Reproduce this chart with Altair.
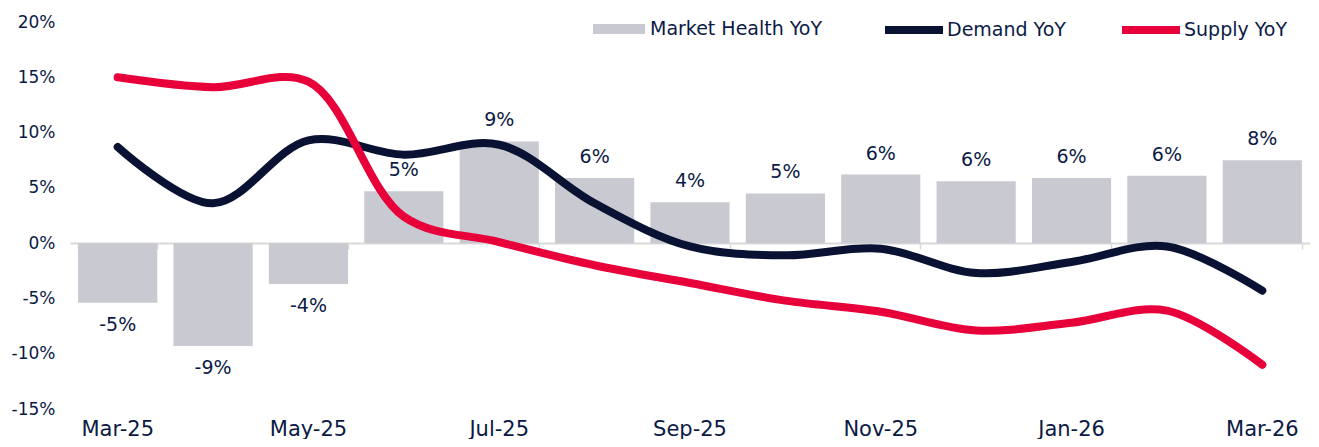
import math
import altair as alt
import pandas as pd

months = ["Mar-25", "Apr-25", "May-25", "Jun-25", "Jul-25", "Aug-25", "Sep-25",
          "Oct-25", "Nov-25", "Dec-25", "Jan-26", "Feb-26", "Mar-26"]
market_health = [-5.4, -9.3, -3.7, 4.7, 9.2, 5.9, 3.7, 4.5, 6.2, 5.6, 5.9, 6.1, 7.5]
demand = [8.7, 3.6, 9.3, 8.0, 8.9, 3.6, -0.3, -1.1, -0.5, -2.7, -1.7, -0.3, -4.3]
supply = [15.0, 14.1, 14.6, 2.4, 0.1, -2.0, -3.6, -5.2, -6.2, -7.9, -7.2, -6.1, -11.0]
tick_labels = ["Mar-25", "May-25", "Jul-25", "Sep-25", "Nov-25", "Jan-26", "Mar-26"]
y_ticks = [-15, -10, -5, 0, 5, 10, 15, 20]

FONT = "DejaVu Sans"
TXT = "#0B1A45"
GREY = "#C9C9D2"
NAVY = "#0A1233"
RED = "#E8003A"

bars_df = pd.DataFrame({"month": months, "value": market_health,
                        "series": ["Market Health YoY"] * len(months)})
bars_df["label"] = [f"{math.floor(v + 0.5)}%" for v in market_health]
bars_df["pos"] = [v >= 0 for v in market_health]

demand_df = pd.DataFrame({"month": months, "value": demand,
                          "series": ["Demand YoY"] * len(months), "order": range(len(months))})
supply_df = pd.DataFrame({"month": months, "value": supply,
                          "series": ["Supply YoY"] * len(months), "order": range(len(months))})

W, H = 1240, 387

x_scale = alt.Scale(domain=months, paddingInner=0.17, paddingOuter=0.085)
y_scale = alt.Scale(domain=[-15, 20], nice=False)

x_plain = alt.X("month:N", sort=months, axis=None)
y_plain = alt.Y("value:Q")

bars = alt.Chart(bars_df).mark_bar(color=GREY).encode(
    x=alt.X("month:N", scale=x_scale, sort=months,
            axis=alt.Axis(values=tick_labels, title=None, domain=False, ticks=False,
                          labelAngle=0, labelFont=FONT, labelFontSize=21,
                          labelColor=TXT, labelPadding=26, labelBaseline="alphabetic",
                          orient="bottom")),
    y=alt.Y("value:Q", scale=y_scale,
            axis=alt.Axis(values=y_ticks, title=None, domain=False, ticks=False,
                          grid=False, labelExpr="datum.value + '%'",
                          labelFont=FONT, labelFontSize=17, labelColor=TXT,
                          labelPadding=15)),
    fill=alt.Fill("series:N", scale=alt.Scale(domain=["Market Health YoY"], range=[GREY]),
                  legend=alt.Legend(title=None, orient="none", legendX=523, legendY=-19,
                                    symbolType="M-1,-0.19H1V0.19H-1Z", symbolSize=2704,
                                    symbolStrokeWidth=0, labelFont=FONT, labelFontSize=19,
                                    labelColor=TXT, labelOffset=5, labelLimit=400)),
)

# zero baseline axis with ticks every two months
zero_axis = alt.Chart(bars_df).mark_bar(opacity=0).encode(
    x=alt.X("month:N", scale=x_scale, sort=months,
            axis=alt.Axis(values=tick_labels, title=None, labels=False, domain=True,
                          domainColor="#D9D9D9", domainWidth=2, ticks=True,
                          tickColor="#D9D9D9", tickWidth=1.5, tickSize=6,
                          tickBand="extent", orient="bottom", offset=-166)),
    y=y_plain,
)

pos_labels = alt.Chart(bars_df).transform_filter("datum.pos").mark_text(
    baseline="bottom", dy=-11, font=FONT, fontSize=19, color=TXT
).encode(x=x_plain, y=y_plain, text="label:N")

neg_labels = alt.Chart(bars_df).transform_filter("!datum.pos").mark_text(
    baseline="top", dy=13, font=FONT, fontSize=19, color=TXT
).encode(x=x_plain, y=y_plain, text="label:N")

line_kw = dict(strokeWidth=8, strokeCap="round", strokeJoin="round",
               interpolate="catmull-rom")

demand_line = alt.Chart(demand_df).mark_line(**line_kw).encode(
    x=x_plain, y=y_plain, order="order:Q",
    stroke=alt.Stroke("series:N", scale=alt.Scale(domain=["Demand YoY"], range=[NAVY]),
                      legend=alt.Legend(title=None, orient="none", legendX=811, legendY=-25,
                                        symbolType="stroke", symbolSize=3364,
                                        symbolStrokeWidth=8, labelFont=FONT,
                                        labelFontSize=19, labelColor=TXT, labelOffset=0,
                                        labelLimit=400)),
)

supply_line = alt.Chart(supply_df).mark_line(**line_kw).encode(
    x=x_plain, y=y_plain, order="order:Q",
    stroke=alt.Stroke("series:N", scale=alt.Scale(domain=["Supply YoY"], range=[RED]),
                      legend=alt.Legend(title=None, orient="none", legendX=1048, legendY=-25,
                                        symbolType="stroke", symbolSize=3364,
                                        symbolStrokeWidth=8, labelFont=FONT,
                                        labelFontSize=19, labelColor=TXT, labelOffset=0,
                                        labelLimit=400)),
)

chart = alt.layer(bars, zero_axis, pos_labels, neg_labels, demand_line, supply_line).resolve_axis(
    x="independent"
).resolve_scale(
    stroke="independent"
).properties(
    width=W, height=H,
    autosize=alt.AutoSizeParams(type="none"),
    padding={"left": 62, "top": 14, "right": 0, "bottom": 30},
).configure_view(stroke=None)

chart.save("out.html", embed_options={"renderer": "svg", "actions": False})
